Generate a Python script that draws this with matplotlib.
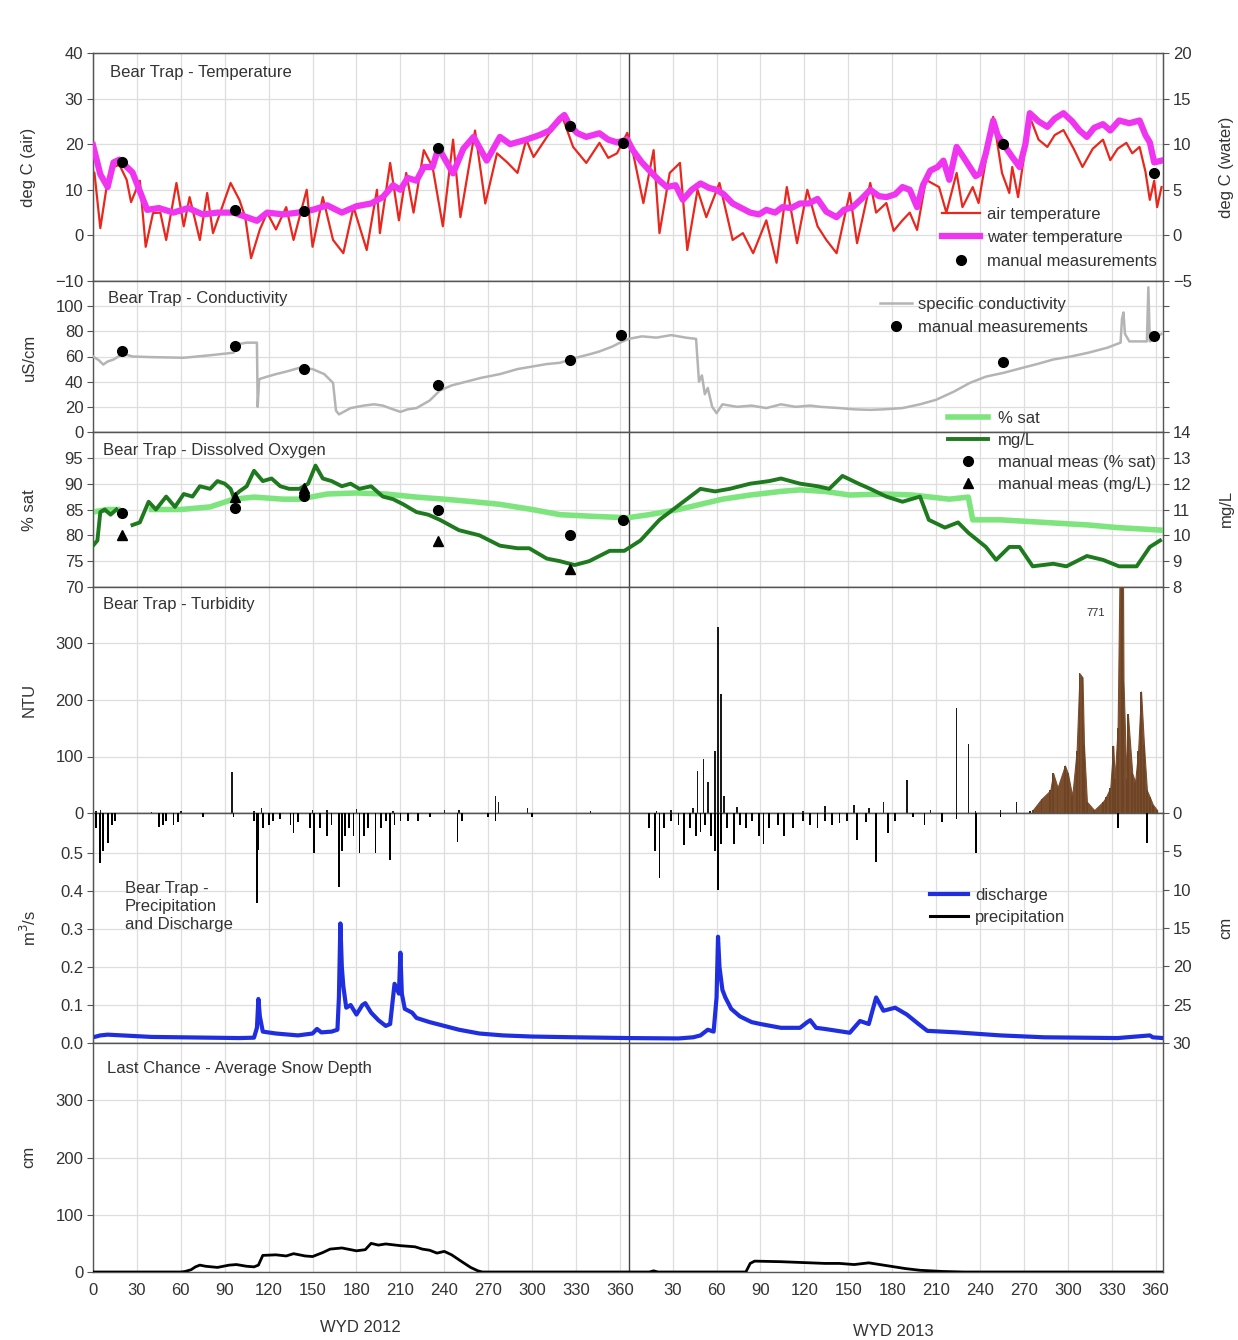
import numpy as np
import matplotlib
matplotlib.use("Agg")
import matplotlib.pyplot as plt

plt.rcParams['font.family'] = ['Liberation Sans', 'DejaVu Sans']
plt.rcParams['font.size'] = 12

# ---------------------------------------------------------------- data
# Day index runs continuously over two water years (WY2012 has 366 days).
YEAR2_START = 366

# Air temperature (deg C, left axis)
air_day = [0, 1, 5, 9, 14, 18, 23, 26, 32, 36, 41, 46, 50, 57, 62, 66, 73, 78, 82, 88,
           94, 100, 104, 108, 114, 119, 125, 132, 137, 146, 150, 157, 164, 171, 178, 187,
           194, 196, 203, 209, 214, 219, 226, 232, 239, 246, 251, 261, 268, 276, 283, 290,
           296, 301, 312, 321, 328, 337, 346, 352, 358, 365, 369, 376, 383, 387, 394, 401,
           406, 413, 419, 428, 437, 444, 451, 460, 467, 474, 481, 488, 495, 501, 508, 517,
           522, 531, 535, 542, 547, 553, 558, 563, 569, 578, 583, 590, 594, 601, 605, 615,
           621, 626, 628, 632, 640, 646, 652, 657, 663, 670, 676, 683, 690, 695, 700, 706,
           710, 715, 719, 722, 725, 727, 730]
air_temp = [14, 13.7, 1.6, 10, 15, 15.5, 12.2, 7.3, 12, -2.5, 4.9, 5, -1, 11.5, 2, 8.4, -1,
            9.3, 0.5, 6, 11.5, 7.8, 4, -5, 1.3, 5, 1.3, 6.2, -1, 10, -2.5, 8.4, -1, -3.9,
            6.2, -3.2, 10, 0.5, 15.9, 3.3, 13.7, 5, 18.7, 15, 2, 21, 4, 23, 7, 18, 16, 13.7,
            21, 17.2, 22.5, 25.7, 19.4, 15.9, 20.3, 17, 18, 22.5, 18, 7.1, 18.7, 0.5, 13.7,
            15.9, -3.2, 10, 4, 11.5, -1, 0.5, -3.9, 3.3, -6, 10.6, -1.7, 10, 2, -1, -3.9,
            9.3, -1.7, 11.5, 5, 7.1, 1, 3.3, 5, 1.2, 12.2, 10.6, 5, 13.7, 6.2, 10.6, 7.1,
            26, 13.7, 9.3, 15, 8.4, 26, 21, 19.4, 22, 23.1, 19, 15, 19, 21, 16.5, 19, 20.3,
            18, 19.4, 14, 7.8, 12, 6.2, 10.6]

# Water temperature (deg C, right axis)
water_day = [0, 5, 10, 14, 18, 27, 37, 45, 55, 65, 75, 85, 96, 105, 112, 119, 130, 140,
             150, 160, 170, 180, 190, 198, 205, 210, 215, 221, 226, 232, 236, 246, 253,
             260, 269, 278, 285, 296, 305, 312, 319, 322, 326, 331, 337, 346, 352, 358,
             365, 369, 375, 382, 387, 392, 398, 403, 409, 415, 421, 426, 431, 437, 443,
             449, 455, 460, 466, 471, 477, 483, 489, 495, 501, 508, 513, 519, 525, 531,
             537, 542, 548, 553, 558, 563, 567, 572, 577, 581, 585, 590, 595, 599, 603,
             606, 610, 615, 618, 622, 628, 633, 637, 640, 646, 652, 657, 663, 669, 674,
             679, 684, 690, 695, 701, 708, 715, 719, 722, 725, 730]
water_temp = [9.9, 6.7, 5.3, 8, 8.3, 6.9, 2.8, 3, 2.5, 3, 2.3, 2.5, 2.5, 2, 1.6, 2.5, 2.3,
              2.5, 2.8, 3.3, 2.5, 3.2, 3.5, 4.2, 5.5, 5, 6.3, 6, 7.5, 7.5, 9.6, 6.8, 9.5,
              10.8, 8.2, 10.8, 10, 10.5, 11, 11.5, 12.8, 13.2, 12, 11.2, 10.8, 11.2, 10.5,
              10.2, 10.5, 9.3, 8, 6.8, 6, 5.3, 5.5, 3.9, 5, 5.7, 5.2, 5, 4.5, 3.5, 3, 2.5,
              2.3, 2.8, 2.5, 3.1, 3, 3.5, 3.5, 4, 2.6, 2, 2.8, 3.1, 4, 5, 4.3, 4.2, 4.5,
              5.3, 5, 3.1, 5.5, 7.1, 7.5, 8.2, 6.1, 9.7, 8.5, 7.5, 6.5, 6.8, 9, 12.6, 11,
              10, 8.6, 7.5, 10, 13.4, 12.5, 11.9, 12.8, 13.4, 12.5, 11.5, 10.8, 11.8, 12.2,
              11.5, 12.6, 12.3, 12.6, 11, 10.2, 8, 8.2]

temp_manual_day = [20, 97, 144, 236, 326, 362, 622, 725]
temp_manual = [8.05, 2.8, 2.7, 9.6, 12.0, 10.1, 10.0, 6.8]

# Specific conductivity (uS/cm)
cond_day = [0, 4, 7, 10, 14, 20, 24, 27, 40, 62, 80, 96, 100, 105, 112, 112.5, 113.5,
            119, 125, 132, 141, 150, 158, 164, 166, 168, 176, 185, 192, 198, 205, 210,
            215, 221, 230, 237, 245, 255, 265, 278, 290, 300, 310, 319, 330, 340, 346,
            355, 360, 366, 375, 385, 395, 405, 412, 414, 416, 418, 420, 423, 426, 430,
            440, 450, 460, 470, 480, 490, 497, 510, 520, 531, 540, 553, 565, 576, 588,
            599, 610, 622, 635, 645, 656, 668, 680, 693, 702, 703, 704, 705, 708, 715,
            720, 721, 722, 725, 730]
cond_val = [60, 57, 53.6, 56, 57.6, 62, 61, 60, 59.5, 59, 61, 63, 70, 71, 71, 20, 42, 44,
            46, 48, 51, 50, 46, 39, 17, 14, 19, 21, 22, 21, 18, 16, 18, 19, 25, 33, 37, 40,
            43, 46, 50, 52, 54, 55, 59, 62, 64, 68, 71, 74, 76, 75, 77, 75, 74, 40, 45, 30,
            35, 20, 15, 22, 20, 21, 19, 22, 20, 21, 20, 19, 18, 17.6, 18, 19, 22, 25.6, 32,
            39, 44, 47, 51, 54, 57.6, 60, 63, 67, 71, 90, 95, 78, 72, 72, 72, 115, 72, 74, 78]

cond_manual_day = [20, 97, 144, 236, 326, 361, 622, 725]
cond_manual = [64, 68, 50, 37.6, 57, 77, 56, 76]

# Dissolved oxygen
do_sat_day = [0, 10, 17, 30, 40, 60, 80, 96, 110, 130, 141, 160, 180, 200, 221, 240, 260,
              278, 300, 319, 340, 365, 380, 400, 415, 430, 449, 470, 483, 500, 517, 540,
              560, 585, 598, 601, 620, 650, 680, 700, 730]
do_sat = [84.5, 85, 85, np.nan, 85, 85, 85.5, 87, 87.4, 87, 87, 88, 88.2, 88, 87.4, 87,
          86.5, 86, 85, 84, 83.7, 83.4, 84, 85, 86, 87, 87.8, 88.5, 88.8, 88.5, 87.8, 88,
          87.8, 87, 87.4, 83, 83, 82.5, 82, 81.5, 81]

do_mgl_day = [0, 3, 5, 8, 12, 16, 22, 27, 32, 38, 43, 50, 56, 62, 68, 73, 80, 85, 90, 94,
              96, 100, 105, 110, 116, 122, 128, 134, 141, 147, 152, 157, 163, 170, 176,
              182, 190, 196, 198, 205, 212, 221, 229, 237, 250, 264, 278, 290, 298, 310,
              319, 329, 339, 353, 363, 374, 387, 401, 415, 425, 435, 449, 462, 470, 483,
              495, 503, 512, 523, 531, 542, 553, 565, 571, 582, 591, 598, 610, 617, 626,
              633, 642, 656, 665, 679, 690, 701, 713, 722, 729]
do_mgl = [9.6, 9.8, 10.9, 11, 10.8, 11.0, np.nan, 10.4, 10.5, 11.3, 11.0, 11.5, 11.1, 11.6,
          11.5, 11.9, 11.8, 12.1, 12.0, 11.8, 11.5, 11.7, 11.9, 12.5, 12.1, 12.2, 11.9,
          11.8, 11.8, 12.0, 12.7, 12.2, 12.1, 11.9, 12.0, 11.8, 11.9, 11.6, 11.5, 11.4,
          11.2, 10.9, 10.8, 10.6, 10.2, 10.0, 9.6, 9.5, 9.5, 9.1, 9.0, 8.85, 9.0, 9.4,
          9.4, 9.8, 10.6, 11.2, 11.8, 11.7, 11.8, 12.0, 12.1, 12.2, 12.0, 11.9, 11.8,
          12.3, 12.0, 11.8, 11.5, 11.3, 11.5, 10.6, 10.3, 10.5, 10.1, 9.55, 9.05, 9.55,
          9.55, 8.8, 8.9, 8.8, 9.2, 9.05, 8.8, 8.8, 9.55, 9.8]

do_sat_manual_day = [20, 97, 144, 236, 326, 362]
do_sat_manual = [84.3, 85.3, 87.6, 85, 80, 83]
do_mgl_manual_day = [20, 97, 144, 236, 326]
do_mgl_manual = [10.0, 11.5, 11.85, 9.8, 8.7]

# Turbidity (NTU)
turb_day = [2, 5, 40, 60, 95, 110, 115, 150, 160, 180, 205, 240, 250, 275, 277, 297, 340,
            385, 395, 410, 413, 417, 420, 425, 427, 429, 431, 440, 485, 500, 520, 530, 540,
            556, 572, 590, 598, 603, 620, 631, 640]
turb_val = [3, 5, 2, 3, 72, 4, 8, 6, 5, 7, 4, 6, 5, 30, 20, 8, 3,
            4, 5, 8, 75, 95, 55, 110, 330, 210, 30, 10, 3, 12, 15, 8, 20,
            58, 6, 186, 122, 3, 6, 19, 4]
turb_event_day = [642, 648, 654, 656, 659, 664, 666, 669, 672, 674, 676, 677, 679, 684,
                  690, 692, 695, 697, 698, 700, 703, 704, 706, 707, 710, 712, 714, 716,
                  718, 720, 722, 724, 727]
turb_event = [5, 25, 40, 70, 45, 84, 70, 30, 110, 247, 240, 120, 20, 5,
              20, 28, 45, 119, 60, 150, 771, 233, 60, 175, 70, 55, 110, 215,
              120, 40, 28, 15, 5]

# Precipitation (cm, inverted right axis)
precip_day = [2, 5, 7, 10, 13, 15, 45, 48, 50, 55, 58, 75, 96, 110, 112, 113, 116, 120,
              123, 128, 135, 137, 140, 148, 151, 155, 160, 163, 168, 170, 172, 175, 178,
              182, 185, 188, 193, 197, 200, 203, 206, 210, 215, 222, 230, 249, 252, 270,
              275, 300, 380, 384, 387, 390, 395, 400, 404, 408, 412, 415, 418, 422, 425,
              427, 429, 433, 438, 442, 446, 450, 455, 458, 462, 468, 472, 478, 485, 490,
              495, 500, 505, 510, 515, 522, 528, 535, 543, 548, 560, 568, 580, 590, 603,
              620, 700, 720]
precip_val = [2, 6.5, 5, 3.9, 1.5, 1, 1.8, 1.5, 1, 1.6, 1.2, 0.5, 0.5, 1, 11.7, 4.8, 2,
              1.5, 1, 0.8, 1.5, 2.6, 1.2, 2, 5.2, 2, 3, 1.5, 9.6, 5, 3, 2, 3, 5.2, 3, 2,
              5.2, 2, 1, 6.1, 1.5, 1, 1, 1, 0.5, 3.8, 1, 0.5, 1, 0.5, 2, 5, 8.5, 2, 1, 1.5,
              4.2, 2, 3, 2.5, 1.5, 3, 5, 10, 4, 2, 4, 1.5, 2, 1, 3, 4, 2, 1.5, 3, 2, 1, 1.5,
              2, 1, 1.5, 1.3, 1, 3.5, 1.2, 6.4, 2.6, 1, 0.5, 1.6, 1.2, 0.8, 5.2, 0.5, 2, 3.9]

# Discharge (m3/s)
q_day = [0, 5, 10, 20, 40, 60, 80, 100, 110, 112, 113, 114, 116, 125, 140, 150, 153, 156,
         163, 167, 168, 169, 170, 171, 173, 176, 180, 184, 186, 190, 195, 200, 203, 206,
         209, 210, 211, 213, 218, 221, 230, 240, 250, 264, 280, 300, 330, 366, 400, 410,
         415, 420, 424, 426, 427, 428, 430, 432, 436, 442, 450, 456, 470, 483, 488, 490,
         494, 500, 517, 524, 530, 535, 540, 548, 556, 564, 570, 590, 620, 650, 700, 722,
         724, 731]
q_val = [0.015, 0.02, 0.022, 0.02, 0.016, 0.015, 0.014, 0.013, 0.014, 0.04, 0.116, 0.07,
         0.03, 0.025, 0.02, 0.025, 0.037, 0.028, 0.03, 0.035, 0.12, 0.315, 0.2, 0.15, 0.093,
         0.1, 0.075, 0.1, 0.105, 0.08, 0.06, 0.045, 0.05, 0.156, 0.13, 0.238, 0.13, 0.09,
         0.08, 0.066, 0.055, 0.045, 0.035, 0.025, 0.02, 0.017, 0.015, 0.013, 0.012, 0.015,
         0.02, 0.035, 0.03, 0.12, 0.28, 0.2, 0.14, 0.12, 0.09, 0.07, 0.055, 0.05, 0.04,
         0.04, 0.055, 0.06, 0.04, 0.037, 0.027, 0.058, 0.05, 0.12, 0.085, 0.093, 0.075,
         0.05, 0.032, 0.028, 0.02, 0.015, 0.013, 0.02, 0.015, 0.013]

# Average snow depth (cm)
snow_day = [0, 60, 63, 67, 70, 73, 77, 85, 93, 98, 105, 110, 113, 116, 125, 132, 137, 145,
            150, 157, 162, 170, 180, 186, 190, 195, 200, 210, 220, 225, 230, 235, 240, 245,
            252, 258, 263, 266, 380, 383, 386, 446, 449, 452, 470, 490, 500, 510, 520, 530,
            535, 545, 555, 565, 580, 595, 731]
snow_val = [0, 0, 1, 4, 9, 12, 10, 8, 12, 13, 10, 9, 12, 29, 30, 28, 32, 28, 27, 34, 40,
            42, 37, 39, 50, 47, 49, 46, 44, 40, 38, 33, 36, 30, 18, 8, 2, 0, 0, 2, 0, 0, 15,
            19, 18, 16, 15, 15, 13, 16, 14, 10, 6, 3, 1, 0, 0]

# Axis tick labels for the two water years
wy1_ticks = list(range(0, 361, 30))
wy2_ticks = list(range(30, 361, 30))

# ---------------------------------------------------------------- layout
W, H = 1238, 1340
fig = plt.figure(figsize=(W / 100, H / 100), dpi=100)
TXT = '#333333'
GRID = '#dedede'
SPINE = '#555555'
FS = 12

X0, X1 = 93, 1163
XMAX = 731


def panel(top, bottom):
    ax = fig.add_axes([X0 / W, 1 - bottom / H, (X1 - X0) / W, (bottom - top) / H])
    ax.set_xlim(0, XMAX)
    return ax


def style(ax, yticks, ylim, labels=True):
    ax.set_ylim(*ylim)
    ax.set_yticks(yticks)
    if not labels:
        ax.set_yticklabels([])
    xt = wy1_ticks + [YEAR2_START + t for t in wy2_ticks]
    ax.set_xticks(xt)
    ax.set_xticklabels([str(t) for t in wy1_ticks] + [str(t) for t in wy2_ticks])
    ax.tick_params(axis='x', length=0, labelbottom=False)
    ax.tick_params(axis='y', direction='out', length=4, colors=SPINE, labelcolor=TXT,
                   labelsize=FS, pad=3)
    ax.grid(True, color=GRID, lw=0.9)
    ax.set_axisbelow(True)
    for s in ax.spines.values():
        s.set_color(SPINE)
        s.set_linewidth(1.0)
    ax.axvline(YEAR2_START, color='#444444', lw=1.0, zorder=1)


def twin(ax, yticks, ylim, invert=False):
    tw = ax.twinx()
    tw.set_ylim(*ylim)
    if invert:
        tw.invert_yaxis()
    tw.set_yticks(yticks)
    tw.tick_params(axis='y', direction='out', length=4, colors=SPINE, labelcolor=TXT,
                   labelsize=FS, pad=3)
    for s in tw.spines.values():
        s.set_color(SPINE)
    return tw


def ftext(x, y, s, **kw):
    kw.setdefault('color', TXT)
    kw.setdefault('fontsize', FS)
    fig.text(x / W, 1 - y / H, s, **kw)


def legend_at(ax, handles, labels, x, y, **kw):
    opts = dict(loc='upper left', bbox_to_anchor=(x / W, 1 - y / H),
                bbox_transform=fig.transFigure, frameon=False, borderpad=0,
                borderaxespad=0, fontsize=FS, handlelength=2.3, handletextpad=0.4,
                labelspacing=0.5, numpoints=1, labelcolor=TXT)
    opts.update(kw)
    leg = ax.legend(handles, labels, **opts)
    leg.set_zorder(20)
    return leg


# ---- temperature
ax_t = panel(53, 281)
style(ax_t, range(-10, 41, 10), (-10, 40))
tw_t = twin(ax_t, range(-5, 21, 5), (-5, 20))
h_air, = ax_t.plot(air_day, air_temp, color='#e8281e', lw=1.6, zorder=3)
h_wat, = tw_t.plot(water_day, water_temp, color='#f035f0', lw=4.5, zorder=4)
h_tm, = tw_t.plot(temp_manual_day, temp_manual, 'o', color='black', ms=7, zorder=6)
legend_at(tw_t, [h_air, h_wat, h_tm],
          ['air temperature', 'water temperature', 'manual measurements'], 942, 207)
ftext(110, 73, 'Bear Trap - Temperature', va='center')

# ---- conductivity
ax_c = panel(281, 432)
style(ax_c, range(0, 101, 20), (0, 120))
ax_c.tick_params(axis='y', right=True)
h_c, = ax_c.plot(cond_day, cond_val, color='#b4b4b4', lw=1.8, zorder=3)
h_cm, = ax_c.plot(cond_manual_day, cond_manual, 'o', color='black', ms=7, zorder=6)
legend_at(ax_c, [h_c, h_cm], ['specific conductivity', 'manual measurements'], 880, 297,
          handlelength=1.9, labelspacing=0.45)
ftext(108, 298, 'Bear Trap - Conductivity', va='center')

# ---- dissolved oxygen
ax_d = panel(432, 587)
style(ax_d, range(70, 96, 5), (70, 100))
tw_d = twin(ax_d, range(8, 15), (8, 14))
h_ds, = ax_d.plot(do_sat_day, do_sat, color='#7ee57e', lw=4.0, zorder=3)
h_dm, = tw_d.plot(do_mgl_day, do_mgl, color='#1f7a1f', lw=2.8, zorder=4)
h_dsm, = ax_d.plot(do_sat_manual_day, do_sat_manual, 'o', color='black', ms=7, zorder=6)
h_dmm, = tw_d.plot(do_mgl_manual_day, do_mgl_manual, '^', color='black', ms=7, zorder=6)
legend_at(tw_d, [h_ds, h_dm, h_dsm, h_dmm],
          ['% sat', 'mg/L', 'manual meas (% sat)', 'manual meas (mg/L)'], 948, 411,
          handlelength=2.4, handletextpad=0.6, labelspacing=0.42)
ftext(103, 451, 'Bear Trap - Dissolved Oxygen', va='center')

# ---- turbidity
ax_u = panel(587, 813)
style(ax_u, range(0, 301, 100), (0, 400))
ax_u.bar(turb_day, turb_val, width=1.0, color='#1a1a1a', zorder=3)
ax_u.fill_between(turb_event_day, turb_event, color='#7a4e2d', lw=0.8, zorder=3)
ax_u.bar(turb_event_day, turb_event, width=1.2, color='#6e4426', zorder=3)
peak_i = int(np.argmax(turb_event))
ax_u.annotate(f'{turb_event[peak_i]:.0f}', (turb_event_day[peak_i], 395),
              xytext=(-19, -17), textcoords='offset points', ha='center', va='center',
              fontsize=8, color=TXT)
ftext(103, 604, 'Bear Trap - Turbidity', va='center')

# ---- precipitation and discharge
ax_q = panel(813, 1043)
style(ax_q, [0.0, 0.1, 0.2, 0.3, 0.4, 0.5], (0, 0.606))
ax_q.set_yticklabels(['0.0', '0.1', '0.2', '0.3', '0.4', '0.5'])
tw_q = twin(ax_q, range(0, 31, 5), (0, 30), invert=True)
h_q, = ax_q.plot(q_day, q_val, color='#1f2fe0', lw=3.0, zorder=3)
tw_q.bar(precip_day, precip_val, width=1.2, color='black', zorder=4)
h_p, = tw_q.plot([], [], color='black', lw=2.2)
legend_at(tw_q, [h_q, h_p], ['discharge', 'precipitation'], 930, 888,
          handlelength=2.3, labelspacing=0.4)
ftext(125, 906, 'Bear Trap -\nPrecipitation\nand Discharge', va='center',
      linespacing=1.25)

# ---- snow depth
ax_s = panel(1043, 1272)
style(ax_s, range(0, 301, 100), (0, 400))
ax_s.plot(snow_day, snow_val, color='black', lw=2.0, zorder=3)
ax_s.tick_params(axis='x', length=0, labelbottom=True, labelsize=FS, labelcolor=TXT,
                 pad=8)
ftext(107, 1069, 'Last Chance - Average Snow Depth', va='center')

# ---- axis titles
ftext(360, 1327, 'WYD 2012', ha='center', va='center')
ftext(893, 1331, 'WYD 2013', ha='center', va='center')
for s, y in [('deg C (air)', 167), ('uS/cm', 357), ('% sat', 510), ('NTU', 700),
             ('m$^3$/s', 928), ('cm', 1157)]:
    ftext(29, y, s, rotation=90, ha='center', va='center')
for s, y in [('deg C (water)', 167), ('mg/L', 508), ('cm', 928)]:
    ftext(1226, y, s, rotation=90, ha='center', va='center')

fig.savefig('out.png', dpi=100, facecolor='white')
